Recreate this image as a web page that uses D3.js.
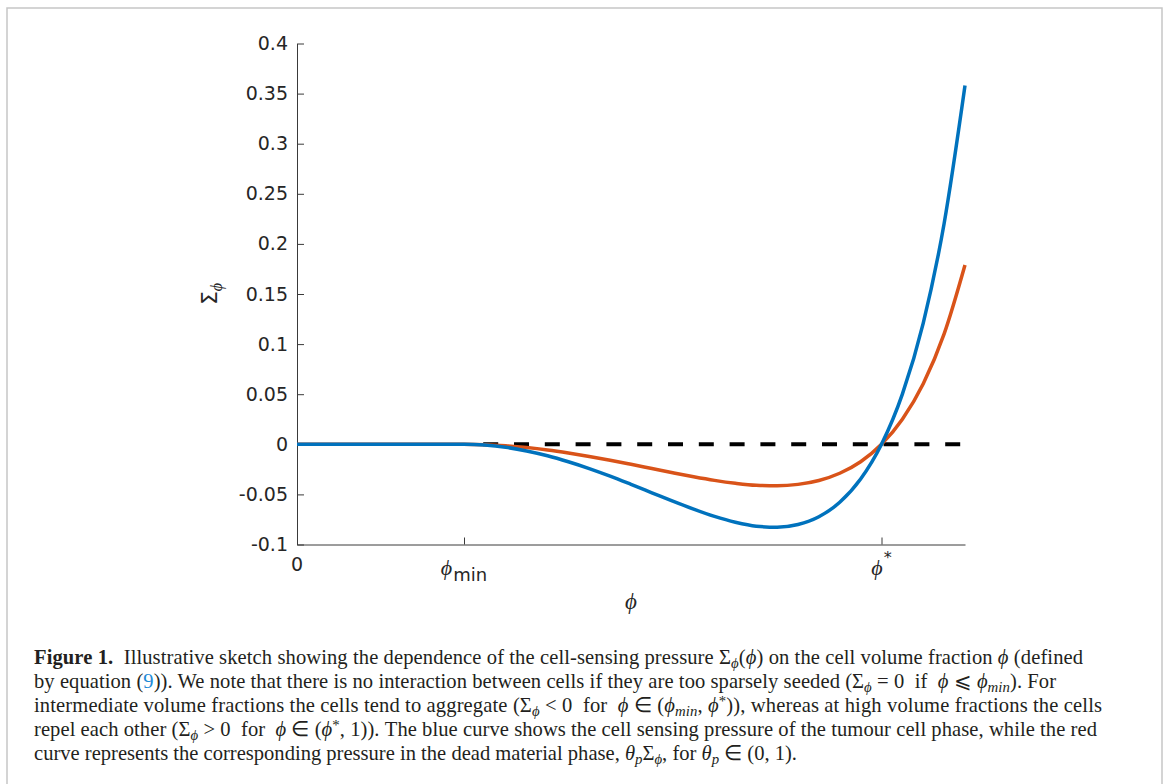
<!DOCTYPE html>
<html>
<head>
<meta charset="utf-8">
<script src="https://cdn.jsdelivr.net/npm/d3@7"></script>
<style>
  body { margin: 0; background: #fff; }
  svg { display: block; }
  .tick text { font-family: "DejaVu Sans", sans-serif; font-size: 19px; fill: #262626; }
</style>
</head>
<body>
<svg id="fig" width="1166" height="784"></svg>
<script>
// volume fraction samples (x) and the two pressure curves
var phi = [0, 0.05, 0.1, 0.15, 0.2, 0.225, 0.25, 0.275, 0.3, 0.325, 0.35, 0.375, 0.4,
           0.425, 0.45, 0.475, 0.5, 0.525, 0.55, 0.575, 0.6, 0.625, 0.65, 0.675, 0.7,
           0.725, 0.75, 0.775, 0.8];
var sigmaTumour = [0, 0, 0, 0, 0, -0.0008, -0.003, -0.0066, -0.0114, -0.0174, -0.0242, -0.0318, -0.040,
                   -0.0484, -0.0568, -0.0648, -0.072, -0.0778, -0.0817, -0.0827, -0.080, -0.0723, -0.0579, -0.0347, 0,
                   0.0501, 0.121, 0.2204, 0.358];
var sigmaDead = [0, 0, 0, 0, 0, -0.0004, -0.0015, -0.0033, -0.0057, -0.0087, -0.0121, -0.0159, -0.020,
                 -0.0242, -0.0284, -0.0324, -0.036, -0.0389, -0.0409, -0.0414, -0.040, -0.0361, -0.0289, -0.0174, 0,
                 0.0251, 0.0605, 0.1102, 0.179];
var zeroPhi = [0.223, 0.8];
var zeroVal = [0, 0];

var yTicks = [-0.1, -0.05, 0, 0.05, 0.1, 0.15, 0.2, 0.25, 0.3, 0.35, 0.4];
var yTickLabels = ["-0.1", "-0.05", "0", "0.05", "0.1", "0.15", "0.2", "0.25", "0.3", "0.35", "0.4"];
var xTicks = [0, 0.2, 0.7];
var xTickLabels = [["0", ""], ["\u03D5", "min"], ["\u03D5", "*"]];

var svg = d3.select("#fig");

// figure frame
svg.append("rect")
    .attr("x", 7).attr("y", 8).attr("width", 1155).attr("height", 800)
    .attr("fill", "none").attr("stroke", "#c6c6c6").attr("stroke-width", 1.5);

var x = d3.scaleLinear().domain([0, 0.8]).range([297, 965]);
var y = d3.scaleLinear().domain([-0.1, 0.4]).range([544.5, 43.5]);

var yAxis = svg.append("g")
    .attr("transform", "translate(" + x(0) + ",0)")
    .call(d3.axisLeft(y).tickValues(yTicks).tickSize(-7).tickSizeOuter(0).tickPadding(9)
        .tickFormat(function (d, i) { return yTickLabels[i]; }));
yAxis.selectAll("path, line").attr("stroke", "#3a3a3a").attr("stroke-width", 1);

var xAxis = svg.append("g")
    .attr("transform", "translate(0," + y(-0.1) + ")")
    .call(d3.axisBottom(x).tickValues(xTicks).tickSize(-7).tickSizeOuter(0).tickFormat(""));
xAxis.selectAll("path, line").attr("stroke", "#3a3a3a").attr("stroke-width", 1);

// x tick labels with sub/superscripts
xTicks.forEach(function (v, i) {
    var t = svg.append("text")
        .attr("x", x(v)).attr("y", 575)
        .attr("text-anchor", "middle")
        .attr("font-family", "DejaVu Sans, sans-serif")
        .attr("font-size", 19).attr("fill", "#262626");
    var lab = xTickLabels[i];
    if (lab[0] == "0") {
        t.attr("y", 571).text("0");
        return;
    }
    t.append("tspan").attr("font-family", "Liberation Serif, serif").attr("font-style", "italic")
        .attr("font-size", 22).text(lab[0]);
    if (lab[1] == "min") {
        t.append("tspan").attr("font-size", 18).attr("dy", 6).attr("dx", 1).text(lab[1]);
    } else {
        t.append("tspan").attr("font-size", 16).attr("dy", -12).attr("dx", 1).text(lab[1]);
    }
});

// axis labels
svg.append("text")
    .attr("x", 631).attr("y", 609)
    .attr("text-anchor", "middle")
    .attr("font-family", "Liberation Serif, serif")
    .attr("font-style", "italic")
    .attr("font-size", 23).attr("fill", "#262626")
    .text("\u03D5");

var yl = svg.append("text")
    .attr("transform", "translate(217,294) rotate(-90)")
    .attr("text-anchor", "middle")
    .attr("font-family", "DejaVu Sans, sans-serif")
    .attr("font-size", 22).attr("fill", "#262626");
yl.append("tspan").text("\u03A3");
yl.append("tspan").attr("font-family", "Liberation Serif, serif").attr("font-size", 16)
    .attr("font-style", "italic").attr("dy", 5).text("\u03D5");

// curves
var zeroData = zeroPhi.map(function (p, i) { return [p, zeroVal[i]]; });
var line = d3.line()
    .x(function (d) { return x(d[0]); })
    .y(function (d) { return y(d[1]); })
    .curve(d3.curveMonotoneX);

svg.append("path")
    .datum(zeroData)
    .attr("d", line)
    .attr("fill", "none").attr("stroke", "#000").attr("stroke-width", 4)
    .attr("stroke-dasharray", "15,15.8");

svg.append("path")
    .datum(phi.map(function (p, i) { return [p, sigmaDead[i]]; }))
    .attr("d", line)
    .attr("fill", "none").attr("stroke", "#D95319").attr("stroke-width", 3.5);

svg.append("path")
    .datum(phi.map(function (p, i) { return [p, sigmaTumour[i]]; }))
    .attr("d", line)
    .attr("fill", "none").attr("stroke", "#0072BD").attr("stroke-width", 3.5);

// caption
var captionLines = [
    [["Figure 1.", "b"], ["  Illustrative sketch showing the dependence of the cell-sensing pressure ", ""], ["\u03A3", ""], ["\u03D5", "sub"], ["(", ""], ["\u03D5", "i"], [") on the cell volume fraction ", ""], ["\u03D5", "i"], [" (defined", ""]],
    [["by equation (", ""], ["9", "link"], [")). We note that there is no interaction between cells if they are too sparsely seeded (", ""], ["\u03A3", ""], ["\u03D5", "sub"], [" = 0  if  ", ""], ["\u03D5", "i"], [" \u2A7D ", ""], ["\u03D5", "i"], ["min", "subi"], ["). For", ""]],
    [["intermediate volume fractions the cells tend to aggregate (", ""], ["\u03A3", ""], ["\u03D5", "sub"], [" < 0  for  ", ""], ["\u03D5", "i"], [" \u2208 (", ""], ["\u03D5", "i"], ["min", "subi"], [", ", ""], ["\u03D5", "i"], ["*", "sup"], [")), whereas at high volume fractions the cells", ""]],
    [["repel each other (", ""], ["\u03A3", ""], ["\u03D5", "sub"], [" > 0  for  ", ""], ["\u03D5", "i"], [" \u2208 (", ""], ["\u03D5", "i"], ["*", "sup"], [", 1)). The blue curve shows the cell sensing pressure of the tumour cell phase, while the red", ""]],
    [["curve represents the corresponding pressure in the dead material phase, ", ""], ["\u03B8", "i"], ["p", "subi"], ["\u03A3", ""], ["\u03D5", "sub"], [", for ", ""], ["\u03B8", "i"], ["p", "subi"], [" \u2208 (0, 1).", ""]]
];
var captionBase = [664, 688, 712, 736, 760];
var captionEnd = [1083, 1056, 1102, 1097, 806];
var baseSize = 16;

var captionTexts = captionLines.map(function (segs, li) {
    var t = svg.append("text")
        .attr("x", 34).attr("y", captionBase[li])
        .attr("font-family", "Liberation Serif, serif")
        .attr("font-size", baseSize).attr("fill", "#231f20")
        .style("white-space", "pre");
    var shift = 0;
    segs.forEach(function (s) {
        var ts = t.append("tspan").text(s[0]);
        var target = 0;
        var small = false;
        if (s[1] == "b") ts.attr("font-weight", "bold");
        if (s[1] == "i") ts.attr("font-style", "italic");
        if (s[1] == "link") ts.attr("fill", "#1e8ad6");
        if (s[1] == "sub" || s[1] == "subi") {
            ts.attr("font-style", "italic");
            small = true;
            target = 4;
        }
        if (s[1] == "sup") {
            small = true;
            target = -6;
        }
        if (small) ts.classed("small", true);
        if (target != shift) {
            ts.attr("dy", target - shift);
            shift = target;
        }
    });
    return t;
});

// fit font size to the width of the last full line, then justify lines 1-4
var natural = captionTexts[4].node().getComputedTextLength();
var size = baseSize * (captionEnd[4] - 34) / natural;
captionTexts.forEach(function (t, li) {
    t.attr("font-size", size);
    t.selectAll("tspan.small").attr("font-size", size * 0.72);
    if (li < 4) t.attr("textLength", captionEnd[li] - 34).attr("lengthAdjust", "spacing");
});
</script>
</body>
</html>
